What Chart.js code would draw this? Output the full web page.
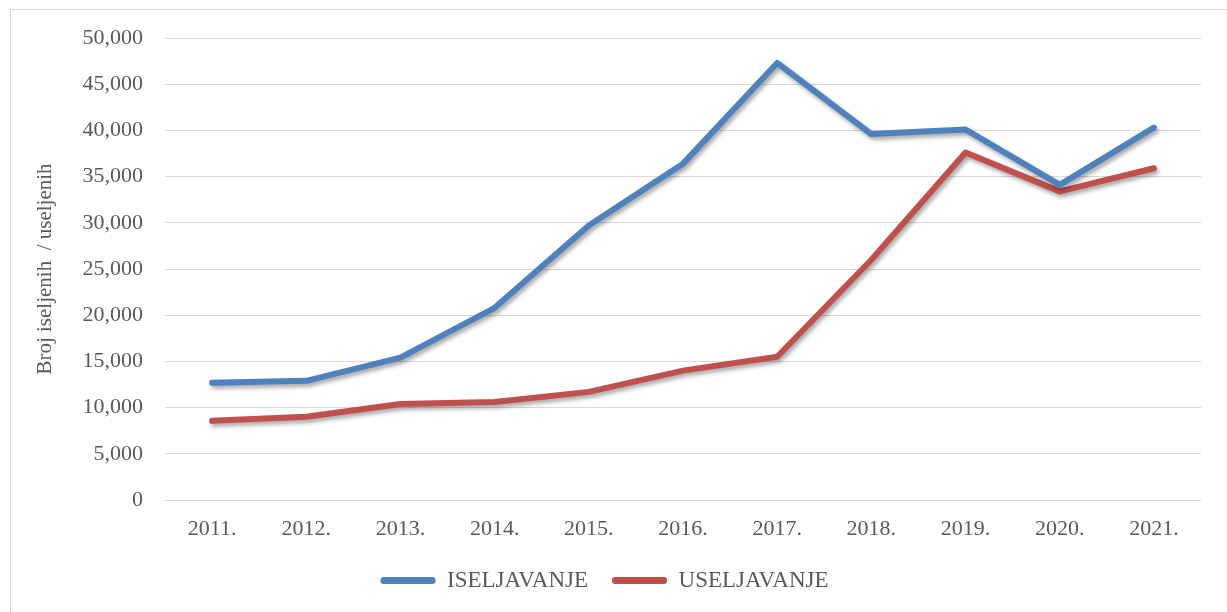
<!DOCTYPE html>
<html>
<head>
<meta charset="utf-8">
<script src="https://cdn.jsdelivr.net/npm/chart.js@4"></script>
<style>
  html, body { margin: 0; padding: 0; background: #fff; overflow: hidden; }
  #okvir { position: absolute; left: 10px; top: 9px; width: 1230px; height: 620px; border: 1px solid #d9d9d9; }
  #wrap { position: absolute; left: 0; top: 0; width: 1227px; height: 612px; }
</style>
</head>
<body>
<div id="okvir"></div>
<div id="wrap"><canvas id="myChart"></canvas></div>
<script>
// Podaci
const godine = ['2011.', '2012.', '2013.', '2014.', '2015.', '2016.', '2017.', '2018.', '2019.', '2020.', '2021.'];
const iseljavanje = [12700, 12900, 15400, 20800, 29700, 36400, 47300, 39600, 40100, 34100, 40300];
const useljavanje = [8570, 9000, 10400, 10600, 11700, 14000, 15500, 26000, 37600, 33400, 35900];
const yMax = 50000;
const yKorak = 5000;

const font = 'Liberation Serif, Times New Roman, serif';

// sjena ispod linija
const sjena = {
    id: 'sjena',
    beforeDatasetDraw(chart) {
        const ctx = chart.ctx;
        ctx.save();
        ctx.shadowColor = 'rgba(0,0,0,0.35)';
        ctx.shadowBlur = 4;
        ctx.shadowOffsetX = 2;
        ctx.shadowOffsetY = 3;
    },
    afterDatasetDraw(chart) {
        chart.ctx.restore();
    }
};

document.addEventListener('DOMContentLoaded', () => {
    const ctx = document.getElementById('myChart').getContext('2d');

    new Chart(ctx, {
        type: 'line',
        data: {
            labels: godine,
            datasets: [{
                label: 'ISELJAVANJE',
                data: iseljavanje,
                borderColor: '#4f81bd',
                backgroundColor: '#4f81bd',
                borderWidth: 6,
                pointRadius: 0,
                borderCapStyle: 'round',
                borderJoinStyle: 'round',
                tension: 0
            }, {
                label: 'USELJAVANJE',
                data: useljavanje,
                borderColor: '#c0504d',
                backgroundColor: '#c0504d',
                borderWidth: 6,
                pointRadius: 0,
                borderCapStyle: 'round',
                borderJoinStyle: 'round',
                tension: 0
            }]
        },
        options: {
            responsive: true,
            maintainAspectRatio: false,
            animation: false,
            layout: { padding: { top: 38, right: 26, bottom: 10, left: 8 } },
            plugins: {
                tooltip: { enabled: false },
                legend: {
                    position: 'bottom',
                    labels: {
                        color: '#595959',
                        font: { family: font, size: 23 },
                        boxWidth: 55,
                        boxHeight: 7,
                        padding: 24,
                        useBorderRadius: true,
                        borderRadius: 3,
                        generateLabels(chart) {
                            return chart.data.datasets.map((ds, i) => ({
                                text: ds.label,
                                fillStyle: ds.borderColor,
                                strokeStyle: ds.borderColor,
                                lineWidth: 0,
                                fontColor: '#595959',
                                borderRadius: 3,
                                datasetIndex: i
                            }));
                        }
                    }
                }
            },
            scales: {
                x: {
                    offset: true,
                    grid: { display: false },
                    border: { display: false },
                    ticks: {
                        color: '#595959',
                        font: { family: font, size: 22 },
                        padding: 8,
                        maxRotation: 0
                    },
                    afterFit(scale) { scale.height = 45; }
                },
                y: {
                    min: 0,
                    max: yMax,
                    grid: { color: '#d9d9d9', lineWidth: 1, drawTicks: false },
                    border: { display: false },
                    ticks: {
                        stepSize: yKorak,
                        color: '#595959',
                        font: { family: font, size: 22 },
                        padding: 22,
                        callback: v => v.toLocaleString('en-US')
                    },
                    title: {
                        display: true,
                        text: 'Broj iseljenih  / useljenih',
                        color: '#595959',
                        font: { family: font, size: 21 },
                        padding: { top: 25, bottom: 0 }
                    },
                    afterFit(scale) { scale.width = 157; }
                }
            }
        },
        plugins: [sjena]
    });
});
</script>
</body>
</html>
